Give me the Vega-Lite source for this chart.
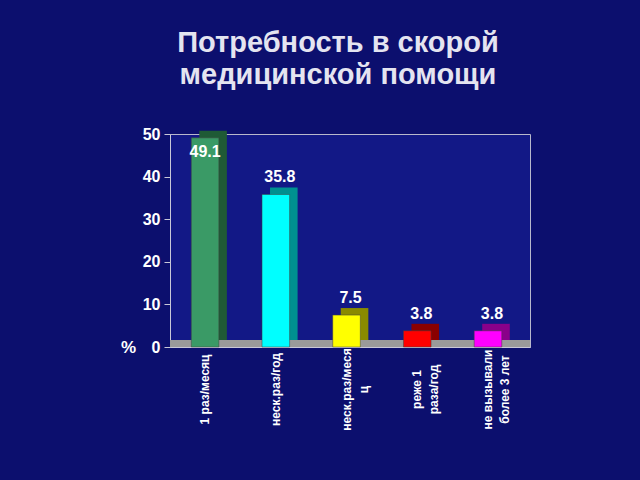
{
  "$schema": "https://vega.github.io/schema/vega-lite/v6.json",
  "autosize": {"type": "none"},
  "padding": {"left": 170, "top": 134, "right": 110, "bottom": 133},
  "width": 360,
  "height": 213,
  "background": "#0c0f6e",
  "title": {
    "text": ["Потребность в скорой", "медицинской помощи"],
    "font": "Liberation Sans",
    "fontSize": 29,
    "fontWeight": "bold",
    "color": "#e4e4f0",
    "anchor": "middle",
    "dx": -12,
    "offset": 36,
    "lineHeight": 32
  },
  "config": {
    "view": {"stroke": "#b8b8cc", "strokeWidth": 1, "fill": "#121886"},
    "font": "Liberation Sans"
  },
  "data": {
    "values": [
      {"cat": "1 раз/месяц", "value": 49.1},
      {"cat": "неск.раз/год", "value": 35.8},
      {"cat": "неск.раз/меся|ц", "value": 7.5},
      {"cat": "реже 1|раза/год", "value": 3.8},
      {"cat": "не вызывали|более 3 лет", "value": 3.8}
    ]
  },
  "layer": [
    {
      "mark": {"type": "rule", "color": "#9a9a9a", "strokeWidth": 7, "yOffset": -3.5},
      "encoding": {"y": {"datum": 0, "type": "quantitative"}}
    },
    {
      "encoding": {
        "x": {
          "field": "cat",
          "type": "nominal",
          "sort": null,
          "scale": {"paddingInner": 0.61, "paddingOuter": 0.35, "align": 0.43},
          "axis": {
            "title": null,
            "labelAngle": 270,
            "labelAlign": "center",
            "labelBaseline": "middle",
            "labelExpr": "split(datum.label, '|')",
            "labelColor": "#ffffff",
            "labelFont": "Liberation Sans",
            "labelFontWeight": "bold",
            "labelFontSize": 12,
            "labelLineHeight": 17,
            "labelPadding": 42,
            "domainColor": "#c8c8d8",
            "ticks": false
          }
        },
        "y": {
          "field": "value",
          "type": "quantitative",
          "scale": {"domain": [0, 50]},
          "axis": {
            "values": [0, 10, 20, 30, 40, 50],
            "title": "%",
            "titleAngle": 0,
            "titleX": -42,
            "titleY": 213,
            "titleBaseline": "middle",
            "titleAlign": "center",
            "titleColor": "#ffffff",
            "titleFontSize": 17,
            "titleFontWeight": "bold",
            "labelColor": "#ffffff",
            "labelFontSize": 16,
            "labelFontWeight": "bold",
            "labelPadding": 4,
            "tickColor": "#c8c8d8",
            "tickSize": 6,
            "domainColor": "#c8c8d8",
            "gridColor": "#b8b8cc",
            "gridWidth": 1
          }
        }
      },
      "layer": [
        {
          "mark": {"type": "bar", "xOffset": 8, "yOffset": -7},
          "encoding": {
            "color": {
              "field": "cat",
              "type": "nominal",
              "legend": null,
              "scale": {
                "domain": ["1 раз/месяц", "неск.раз/год", "неск.раз/меся|ц", "реже 1|раза/год", "не вызывали|более 3 лет"],
                "range": ["#1f5a36", "#009090", "#8a8a00", "#8a0000", "#8a008a"]
              }
            }
          }
        },
        {
          "mark": {"type": "bar", "stroke": "#404040", "strokeWidth": 0.5},
          "encoding": {
            "color": {
              "field": "cat",
              "type": "nominal",
              "legend": null,
              "scale": {
                "domain": ["1 раз/месяц", "неск.раз/год", "неск.раз/меся|ц", "реже 1|раза/год", "не вызывали|более 3 лет"],
                "range": ["#3a9a66", "#00ffff", "#ffff00", "#ff0000", "#ff00ff"]
              }
            }
          }
        },
        {
          "transform": [{"filter": "datum.value < 45"}],
          "mark": {"type": "text", "baseline": "bottom", "dy": -9, "dx": 4, "color": "#ffffff", "fontSize": 16, "fontWeight": "bold"},
          "encoding": {"text": {"field": "value", "type": "quantitative", "format": ".1f"}}
        },
        {
          "transform": [{"filter": "datum.value >= 45"}],
          "mark": {"type": "text", "baseline": "top", "dy": 6, "dx": 0, "color": "#ffffff", "fontSize": 16, "fontWeight": "bold"},
          "encoding": {"text": {"field": "value", "type": "quantitative", "format": ".1f"}}
        }
      ],
      "resolve": {"scale": {"color": "independent"}}
    }
  ]
}
